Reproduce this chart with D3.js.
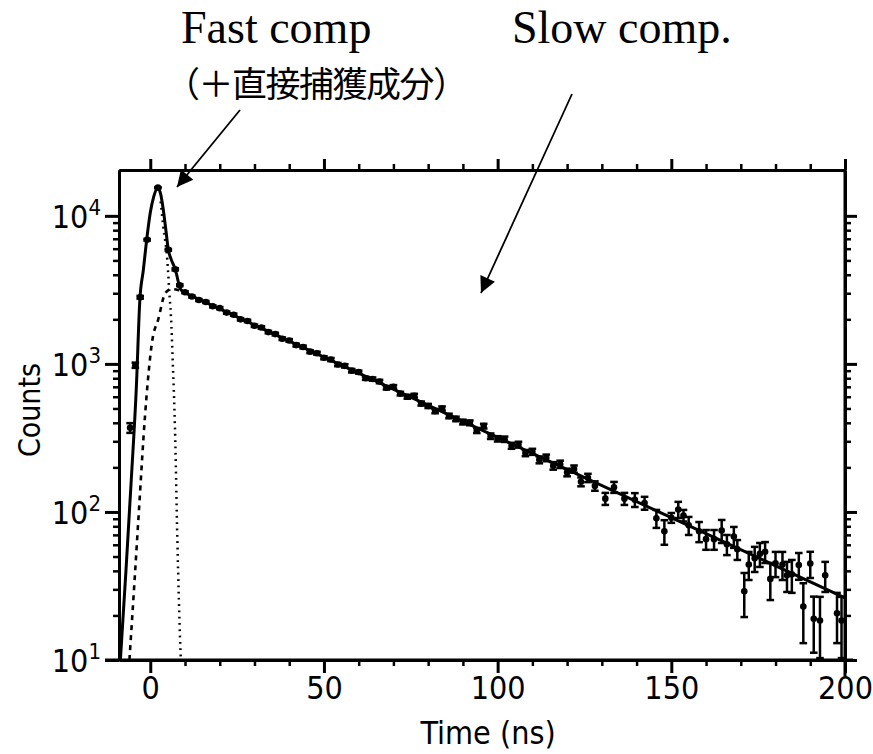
<!DOCTYPE html>
<html><head><meta charset="utf-8">
<script src="https://cdn.jsdelivr.net/npm/d3@7"></script>
<style>body{margin:0;background:#fff}</style>
</head><body><svg id="c" width="873" height="754"></svg>
<script>
// ---- data ----
const xMajor = [0, 50, 100, 150, 200];
const xMinor = [10,20,30,40,60,70,80,90,110,120,130,140,160,170,180,190];
const yMajor = [10, 100, 1000, 10000];
const yExp = ["1", "2", "3", "4"];

// total fit (solid): peak part and slow exponential part
const fitT = [-8.6,-7,-5.5,-4,-3,-2,-1,0,1,2.2,3,3.75,4.5,5.2,6,7.2,8.7,10];
const fitV = [10,40,160,700,2700,4300,7000,10500,13500,15500,14000,11000,8000,5900,5100,4350,3200,3020];
const tailFitT = [10,50,100,150,200];
const tailFitV = [3020,1111,319,91.5,26.3];
// slow component (dashed)
const slowT = [-6,-4.5,-3.2,-1.5,0.6,2.3,4.3,6,8,10];
const slowV = [10,35,108,450,1450,2000,3000,3200,3150,3020];
// fast component (dotted)
const fastT = [3,3.75,4.9,5.5,6.1,6.35,7.2,7.8,8.66,8.8];
const fastV = [12500,8430,5050,3030,1790,1245,306,64.6,12.2,10];

// data points: rising edge / peak
const edgeT = [-5.8,-4.3,-2.9,-0.9,2.2,5.2,7.2,8.5];
const edgeV = [370,980,2820,6900,15500,5900,4350,3400];
const edgeE = [28,40,60,90,130,80,70,50];
// data points: decay, 10..128 ns
const decayT = [10,12,14,16,18,20,22,24,26,28,30,32,34,36,38,40,42,44,46,48,50,52,54,56,58,
  60,62,64,66,68,70,72,74,76,78,80,82,84,86,88,90,92,94,96,98,100,102,104,106,108,110,112,114,116,118,120,122,124,126,128];
const decayV = [3050,2850,2700,2620,2450,2380,2220,2150,2000,1950,1810,1760,1640,1590,1480,1440,1340,1300,1210,1180,1100,1070,990,970,900,
  880,800,790,760,690,700,630,600,610,540,520,480,500,445,425,405,400,355,380,325,312,310,280,285,250,255,225,232,205,210,185,195,160,170,150];
const decayE = [45,45,42,42,40,40,38,38,36,36,34,34,32,32,30,30,30,28,28,28,26,26,25,25,24,
  20,20,20,20,19,19,18,18,18,17,17,16,16,16,15,15,15,14,14,14,13,13,13,13,12,12,12,12,12,12,11,11,11,11,11];
// data points: tail
const tailT = [131,133.5,136.5,139.5,142.3,145.7,148,150,152,153.5,155,158,160,162.3,164.5,166,168,169,171,172.3,174,175.5,177,178.5,180,182,183.3,184.7,186.7,188,190,191,192.8,194.3,197.7,199];
const tailV = [123,147,123,121,115,90.6,74,91.4,104,94.7,81.2,74,65.5,65.5,75,60.5,68.2,56,29.1,44.2,48.7,52.1,53.9,35.3,45,44.2,37.4,37.9,43.8,23,44.8,19,18.5,37.4,20.7,18.5];
const tailE = [11.5,12.5,11.5,13,11.5,12.6,14,7,13,8.5,11.3,11.5,10,10,13.3,9.4,11,8.6,9.6,9.5,9.4,9.6,8.7,9.9,8.7,9.5,8.6,9.5,9,10,9,7.8,8.2,8.6,7.7,8.2];

// ---- drawing ----
const svg = d3.select("#c");
const L = 119, R = 845, T = 170, B = 660;
const x = d3.scaleLinear().domain([-9, 200]).range([L, R]);
const y = d3.scaleLog().domain([10, 20400]).range([B, T]);

const yMinor = [];
[10,100,1000].forEach(d => { for (let k = 2; k <= 9; k++) yMinor.push(d*k); });

const sans = "'DejaVu Sans Condensed','Liberation Sans Narrow','DejaVu Sans',sans-serif";

function styleAxis(g, w) {
  g.select(".domain").attr("stroke", "#000").attr("stroke-width", 3);
  g.selectAll(".tick line").attr("stroke", "#000").attr("stroke-width", w);
}
// bottom
const gb = svg.append("g").attr("transform", `translate(0,${B})`);
gb.call(d3.axisBottom(x).tickValues(xMinor).tickSize(6).tickSizeOuter(0).tickFormat(""));
styleAxis(gb, 2.5);
const gb2 = svg.append("g").attr("transform", `translate(0,${B})`);
gb2.call(d3.axisBottom(x).tickValues(xMajor).tickSize(13).tickSizeOuter(0).tickPadding(3).tickFormat(d3.format("d")));
styleAxis(gb2, 3);
gb2.select(".domain").attr("d", `M${L-14},0H${R+8}`);
gb2.selectAll(".tick text").attr("font-family", sans).attr("font-size", 32).attr("fill", "#000");
// top
const gt = svg.append("g").attr("transform", `translate(0,${T})`);
gt.call(d3.axisTop(x).tickValues(xMinor).tickSize(6).tickSizeOuter(0).tickFormat(""));
styleAxis(gt, 2.5);
const gt2 = svg.append("g").attr("transform", `translate(0,${T})`);
gt2.call(d3.axisTop(x).tickValues(xMajor).tickSize(11).tickSizeOuter(0).tickFormat(""));
styleAxis(gt2, 3);
// left
const gl = svg.append("g").attr("transform", `translate(${L},0)`);
gl.call(d3.axisLeft(y).tickValues(yMinor).tickSize(6).tickSizeOuter(0).tickFormat(""));
styleAxis(gl, 2.5);
const gl2 = svg.append("g").attr("transform", `translate(${L},0)`);
gl2.call(d3.axisLeft(y).tickValues(yMajor).tickSize(14).tickSizeOuter(0).tickFormat(""));
styleAxis(gl2, 3);
// right
const gr = svg.append("g").attr("transform", `translate(${R},0)`);
gr.call(d3.axisRight(y).tickValues(yMinor).tickSize(6).tickSizeOuter(0).tickFormat(""));
styleAxis(gr, 2.5);
const gr2 = svg.append("g").attr("transform", `translate(${R},0)`);
gr2.call(d3.axisRight(y).tickValues(yMajor).tickSize(12).tickSizeOuter(0).tickFormat(""));
styleAxis(gr2, 3);
gr2.select(".domain").attr("d", `M0,${T}V${B+16}`);

// y tick labels 10^n
yMajor.forEach((v, i) => {
  const t = svg.append("text").attr("x", 101).attr("y", y(v) + 12)
    .attr("text-anchor", "end").attr("font-family", sans).attr("font-size", 32).attr("fill", "#000");
  t.append("tspan").text("10");
  t.append("tspan").attr("dy", -13).attr("font-size", 22).text(yExp[i]);
});

// axis titles
svg.append("text").attr("x", 488).attr("y", 744).attr("text-anchor", "middle")
  .attr("font-family", sans).attr("font-size", 32).text("Time (ns)");
svg.append("text").attr("transform", "translate(40,410) rotate(-90)").attr("text-anchor", "middle")
  .attr("font-family", sans).attr("font-size", 30).text("Counts");

// clip
svg.append("clipPath").attr("id", "clip").append("rect")
  .attr("x", L).attr("y", T).attr("width", R - L).attr("height", B - T);
const plot = svg.append("g").attr("clip-path", "url(#clip)");

const line = d3.line().x(d => x(d[0])).y(d => y(d[1])).curve(d3.curveMonotoneX);
const lineLin = d3.line().x(d => x(d[0])).y(d => y(d[1]));
const zip = (a, b) => a.map((v, i) => [v, b[i]]);

plot.append("path").attr("d", line(zip(slowT, slowV))).attr("fill", "none")
  .attr("stroke", "#000").attr("stroke-width", 2.6).attr("stroke-dasharray", "5,5");
plot.append("path").attr("d", line(zip(fastT, fastV))).attr("fill", "none")
  .attr("stroke", "#000").attr("stroke-width", 2.5).attr("stroke-dasharray", "1.8,4.5");

// data points with error bars
const pts = [];
[[edgeT, edgeV, edgeE], [decayT, decayV, decayE], [tailT, tailV, tailE]].forEach(([a, b, c]) => {
  a.forEach((t, i) => pts.push({t, v: b[i], e: c[i]}));
});
const pg = plot.append("g").attr("stroke", "#000").attr("stroke-width", 2.5);
pts.forEach(p => {
  const cx = x(p.t), y1 = y(Math.max(p.v - p.e, 10)), y2 = y(p.v + p.e);
  pg.append("line").attr("x1", cx).attr("x2", cx).attr("y1", y1).attr("y2", y2);
  pg.append("line").attr("x1", cx - 3.8).attr("x2", cx + 3.8).attr("y1", y1).attr("y2", y1);
  pg.append("line").attr("x1", cx - 3.8).attr("x2", cx + 3.8).attr("y1", y2).attr("y2", y2);
  pg.append("circle").attr("cx", cx).attr("cy", y(p.v)).attr("r", 3.3).attr("fill", "#000").attr("stroke", "none");
});

plot.append("path").attr("d", line(zip(fitT, fitV))).attr("fill", "none")
  .attr("stroke", "#000").attr("stroke-width", 3);
plot.append("path").attr("d", lineLin(zip(tailFitT, tailFitV))).attr("fill", "none")
  .attr("stroke", "#000").attr("stroke-width", 3);

// annotations
const serif = "'Liberation Serif','Times New Roman',serif";
svg.append("text").attr("x", 181).attr("y", 43).attr("font-family", serif).attr("font-size", 46).text("Fast comp");
svg.append("text").attr("x", 512).attr("y", 43).attr("font-family", serif).attr("font-size", 46).text("Slow comp.");
svg.append("text").attr("x", 165).attr("y", 97).attr("font-family", "'Noto Sans CJK JP',sans-serif")
  .attr("font-size", 35).attr("letter-spacing", -1.5).text("（＋直接捕獲成分）");

svg.append("defs").append("marker").attr("id", "ah").attr("viewBox", "0 0 10 10")
  .attr("refX", 10).attr("refY", 5).attr("markerWidth", 22).attr("markerHeight", 16)
  .attr("markerUnits", "userSpaceOnUse").attr("orient", "auto")
  .append("path").attr("d", "M0,0L10,5L0,10Z").attr("fill", "#000");
svg.append("line").attr("x1", 240).attr("y1", 110).attr("x2", 177).attr("y2", 187)
  .attr("stroke", "#000").attr("stroke-width", 1.8).attr("marker-end", "url(#ah)");
svg.append("line").attr("x1", 572).attr("y1", 94).attr("x2", 481).attr("y2", 293)
  .attr("stroke", "#000").attr("stroke-width", 1.8).attr("marker-end", "url(#ah)");
</script></body></html>
